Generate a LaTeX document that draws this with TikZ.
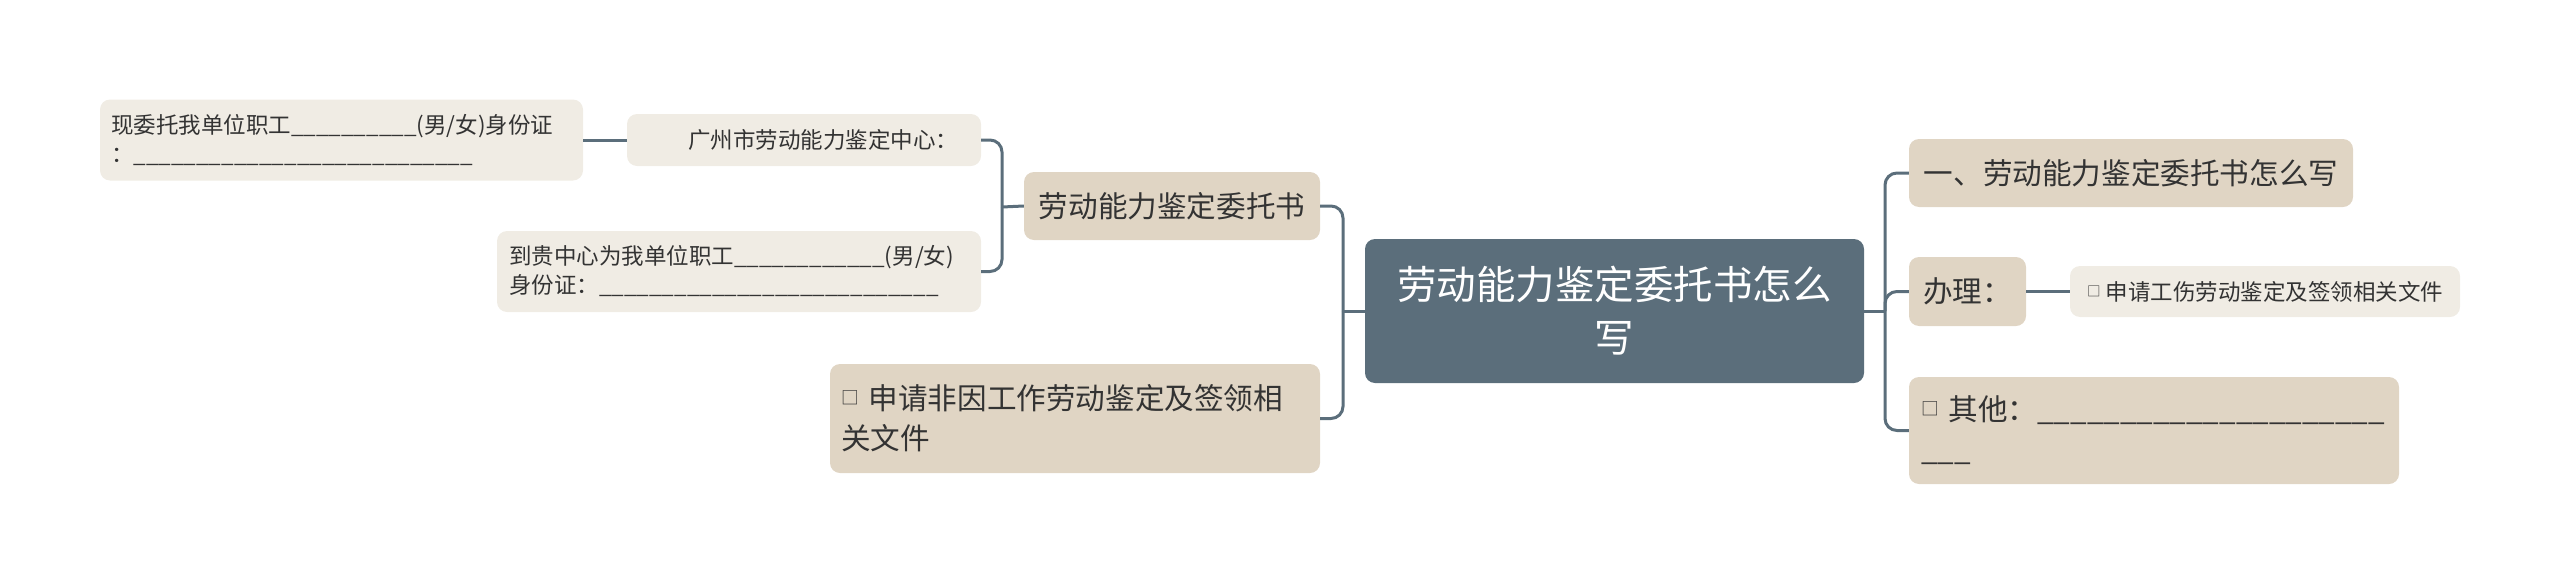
\documentclass[tikz,border=0pt]{standalone}
\usepackage{fontspec}
\setmainfont{Noto Sans CJK SC}
\definecolor{slate}{HTML}{5B6E7B}
\definecolor{sand}{HTML}{E0D5C4}
\definecolor{cream}{HTML}{F0ECE4}
\definecolor{ink}{HTML}{333333}
\newcommand{\blank}[1]{\foreach \k in {1,...,#1}{\_}}
\newcommand{\sq}{\raisebox{0.18em}{\scalebox{0.6}{□}}}

\begin{document}
\begin{tikzpicture}
  [x=1pt,y=-1pt,every node/.style={rounded corners=10pt,inner sep=0pt,text=ink},
   root/.style={fill=slate,text=white,font=\fontsize{39.5}{53}\selectfont},
   topic/.style={fill=sand,font=\fontsize{29.6}{40}\selectfont},
   leaf/.style={fill=cream,font=\fontsize{22.5}{29}\selectfont},
   link/.style={draw=slate,line width=3pt,rounded corners=12pt}]
  \useasboundingbox (0,0) rectangle (2560,584);
  \node[root,minimum width=499pt,minimum height=144pt,text width=440pt,align=center] (root) at (1614.5,311) {劳动能力鉴定委托书怎么\\写};
  \node[topic,minimum width=296pt,minimum height=68pt] (lt1) at (1172,206) {劳动能力鉴定委托书};
  \node[topic,minimum width=490pt,minimum height=109pt,text width=468pt,align=left] (lt2) at (1075,418.5) {\sq\ 申请非因工作劳动鉴定及签领相\\关文件};
  \node[leaf,minimum width=354pt,minimum height=52pt,text width=308pt,align=right] (ll1) at (804,140) {广州市劳动能力鉴定中心：};
  \node[leaf,minimum width=484pt,minimum height=81pt,text width=460pt,align=left] (ll2) at (739,271.5) {到贵中心为我单位职工\blank{12}(男/女)\\身份证：\blank{27}};
  \node[leaf,minimum width=483pt,minimum height=81pt,text width=461pt,align=left] (ll3) at (341.5,140) {现委托我单位职工\blank{10}(男/女)身份证\\：\blank{27}};
  \node[topic,minimum width=444pt,minimum height=68pt] (rt1) at (2131,173) {一、劳动能力鉴定委托书怎么写};
  \node[topic,minimum width=117pt,minimum height=69pt] (rt2) at (1967.5,291.5) {办理：};
  \node[leaf,minimum width=390pt,minimum height=51pt] (rl1) at (2265,291.5) {\sq\ 申请工伤劳动鉴定及签领相关文件};
  \node[topic,minimum width=490pt,minimum height=107pt,text width=466pt,align=left] (rt3) at (2154,430.5) {\sq\ 其他：\blank{21}\\\blank{3}};

  \coordinate (jl) at (1343,311);
  \coordinate (jr) at (1885,311);
  \coordinate (jt) at (1002,207);
  \draw[link] (root.west) -- (jl);
  \foreach \kid in {lt1,lt2}
    \draw[link] (jl) |- (\kid.east);
  \draw[link] (lt1.west) -- (jt);
  \foreach \kid in {ll1,ll2}
    \draw[link] (jt) |- (\kid.east);
  \draw[link] (ll1.west) -- (ll3.east);
  \draw[link] (root.east) -- (jr);
  \foreach \kid in {rt1,rt2,rt3}
    \draw[link] (jr) |- (\kid.west);
  \draw[link] (rt2.east) -- (rl1.west);
\end{tikzpicture}
\end{document}
